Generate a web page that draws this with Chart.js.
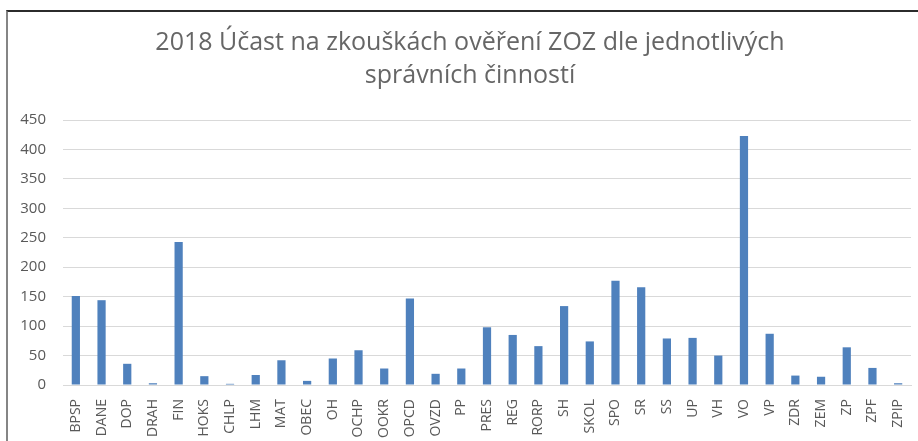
<!DOCTYPE html>
<html lang="cs">
<head>
<meta charset="utf-8">
<title>2018 Účast na zkouškách ověření ZOZ</title>
<script src="https://cdn.jsdelivr.net/npm/chart.js@4.4.1/dist/chart.umd.min.js"></script>
<style>
    html, body { margin: 0; padding: 0; background: #fff; overflow: hidden; }
    body { width: 918px; height: 441px; position: relative; }
    #frame {
        position: absolute; left: 6px; top: 10px;
        width: 940px; height: 440px;
        border-top: 2px solid #2b2b2b;
        border-left: 2px solid #858585;
    }
    #wrap { position: absolute; left: 0; top: 0; width: 924px; height: 429px; }
</style>
</head>
<body>
<div id="frame">
    <div id="wrap"><canvas id="chart"></canvas></div>
</div>
<script>
// --- DATOS ---
const TITLE_LINES = ['2018 Účast na zkouškách ověření ZOZ dle jednotlivých', 'správních činností'];

const CATEGORIES = [
    'BPSP', 'DANE', 'DOP', 'DRAH', 'FIN', 'HOKS', 'CHLP', 'LHM', 'MAT', 'OBEC',
    'OH', 'OCHP', 'OOKR', 'OPCD', 'OVZD', 'PP', 'PRES', 'REG', 'RORP', 'SH',
    'SKOL', 'SPO', 'SR', 'SS', 'UP', 'VH', 'VO', 'VP', 'ZDR', 'ZEM',
    'ZP', 'ZPF', 'ZPIP'
];

const VALUES = [
    151, 144, 36, 3, 243, 15, 2, 17, 42, 7,
    45, 59, 28, 147, 19, 28, 98, 85, 66, 134,
    74, 177, 166, 79, 80, 50, 423, 87, 16, 14,
    64, 29, 3
];

const Y_MIN = 0;
const Y_MAX = 450;
const Y_STEP = 50;

// --- GRÁFICO ---
const TEXT_COLOR = '#595959';
const GRID_COLOR = '#d9d9d9';
const BAR_COLOR = '#4f81bd';

// el título se centra sobre todo el lienzo, no sólo sobre el área del gráfico
const centerTitle = {
    id: 'centerTitle',
    afterLayout(chart) {
        if (chart.titleBlock) chart.titleBlock.right = chart.width;
    }
};

const ctx = document.getElementById('chart').getContext('2d');
new Chart(ctx, {
    type: 'bar',
    data: {
        labels: CATEGORIES,
        datasets: [{
            label: '2018',
            data: VALUES,
            backgroundColor: BAR_COLOR,
            borderWidth: 0,
            categoryPercentage: 1,
            barPercentage: 0.32
        }]
    },
    options: {
        responsive: true,
        maintainAspectRatio: false,
        animation: false,
        layout: { padding: { left: 0, right: 21, top: 0, bottom: 0 } },
        plugins: {
            legend: { display: false },
            tooltip: { enabled: false },
            title: {
                display: true,
                text: TITLE_LINES,
                color: '#666666',
                font: { family: "'Open Sans', sans-serif", size: 25, weight: 400, lineHeight: '33px' },
                padding: { top: 14.5, bottom: 27.5 }
            }
        },
        scales: {
            x: {
                grid: { display: false, drawTicks: false },
                border: { display: true, color: GRID_COLOR },
                ticks: {
                    color: TEXT_COLOR,
                    font: { family: "'Open Sans', sans-serif", size: 14 },
                    minRotation: 90,
                    maxRotation: 90,
                    autoSkip: false,
                    padding: 14
                },
                afterFit: (scale) => { scale.height = 56; }
            },
            y: {
                min: Y_MIN,
                max: Y_MAX,
                grid: { color: GRID_COLOR, drawTicks: false, lineWidth: 1 },
                border: { display: false },
                ticks: {
                    stepSize: Y_STEP,
                    color: TEXT_COLOR,
                    font: { family: "'Open Sans', sans-serif", size: 15 },
                    padding: 17
                },
                afterFit: (scale) => { scale.width = 55; }
            }
        }
    },
    plugins: [centerTitle]
});
</script>
</body>
</html>
